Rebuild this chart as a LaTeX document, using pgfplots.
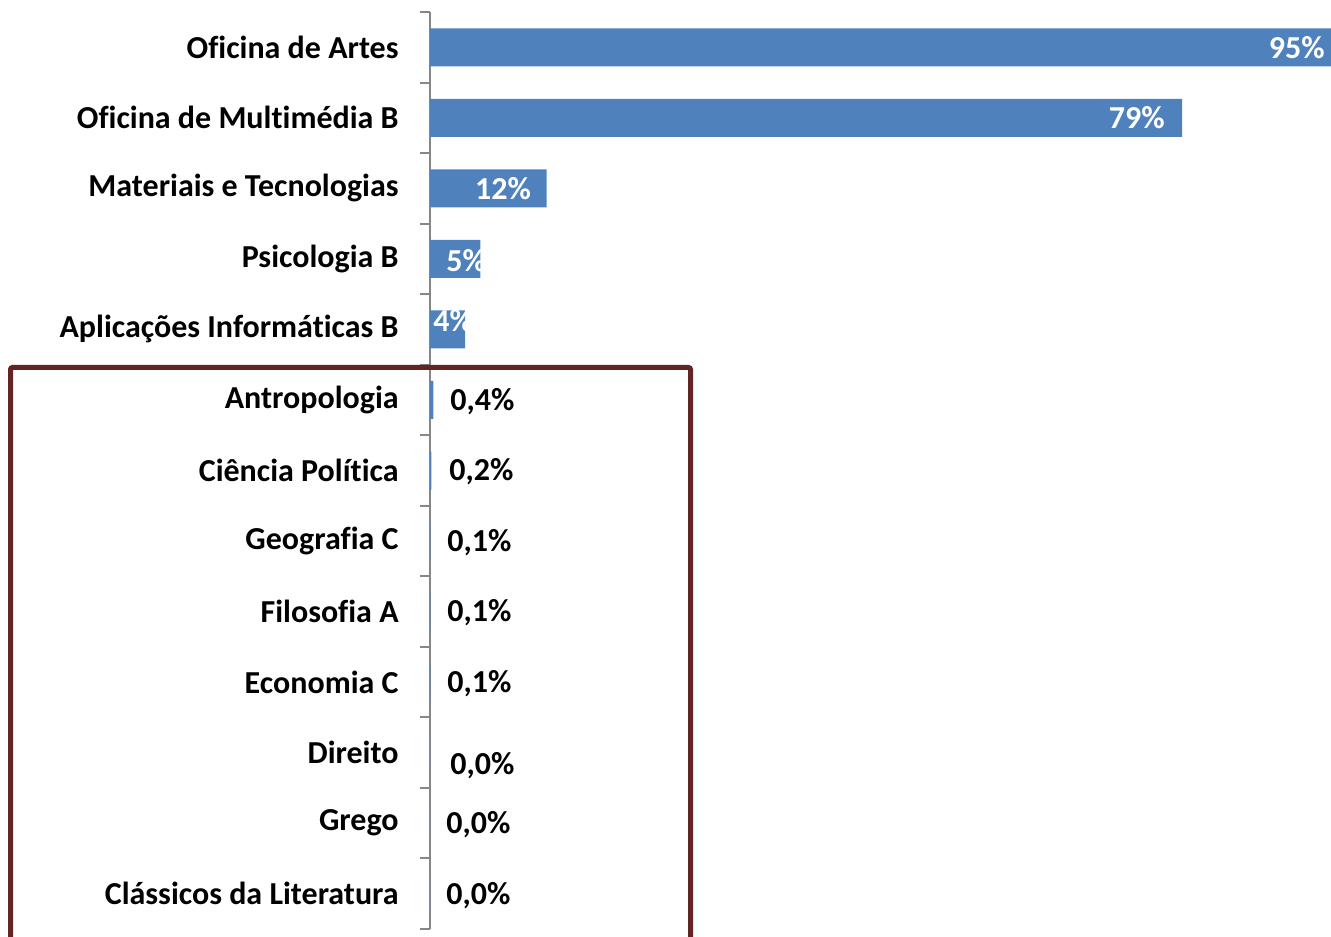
\documentclass[border=0pt]{standalone}
\usepackage{pgfplots}
\pgfplotsset{compat=1.18}
\usepackage{fontspec}
\setmainfont{Carlito}[Ligatures=NoCommon]
\definecolor{barblue}{RGB}{79,129,189}
\definecolor{boxred}{RGB}{99,37,35}
\definecolor{axgray}{RGB}{134,134,134}
\begin{document}
\begin{tikzpicture}
\path[use as bounding box] (0pt,0pt) rectangle (665.5pt,468pt);
\begin{axis}[
  at={(215pt,3.5pt)}, anchor=south west,
  scale only axis, width=450.5pt, height=458.5pt,
  xmin=0, xmax=95, ymin=-0.5, ymax=12.5, y dir=reverse,
  xbar,
  axis x line=none, axis y line*=left,
  y axis line style={draw=axgray, line width=1pt, -},
  ytick={0,...,12},
  yticklabels={Oficina de Artes, Oficina de Multimédia B, Materiais e Tecnologias, Psicologia B, Aplicações Informáticas B, Antropologia, Ciência Política, Geografia C, Filosofia A, Economia C, Direito, Grego, Clássicos da Literatura},
  major tick length=0pt,
  minor ytick={-0.5,0.5,...,12.5},
  minor tick length=5pt,
  tick align=outside,
  minor tick style={draw=axgray, line width=1pt},
  yticklabel style={font=\bfseries\fontsize{16}{19}\selectfont, inner sep=0pt, text=black, xshift=-15.5pt},
  clip=false,
]
\addplot[xbar, bar width=19pt, fill=barblue, draw=none] coordinates {
  (95,0) (79.3,1) (12.3,2) (5.3,3) (3.7,4) (0.35,5) (0.15,6) (0.05,7) (0.05,8) (0.05,9) (0,10) (0,11) (0,12)
};
\begin{scope}[every node/.style={font=\bfseries\fontsize{16}{19}\selectfont, inner sep=0pt}]
\node[anchor=east, white] at (axis cs:94.37,0) {95\%};
\node[anchor=east, white] at (axis cs:77.5,1) {79\%};
\node[white] at (axis cs:7.7,2) {12\%};
\node[anchor=west, white] at (axis cs:1.69,3.03) {5\%};
\node[anchor=west, white] at (axis cs:0.32,3.87) {4\%};
\node[anchor=west] at (axis cs:2.11,5.02) {0,4\%};
\node[anchor=west] at (axis cs:2.0,6.01) {0,2\%};
\node[anchor=west] at (axis cs:1.79,7.02) {0,1\%};
\node[anchor=west] at (axis cs:1.79,8.01) {0,1\%};
\node[anchor=west] at (axis cs:1.79,9.02) {0,1\%};
\node[anchor=west] at (axis cs:2.11,10.18) {0,0\%};
\node[anchor=west] at (axis cs:1.69,11.02) {0,0\%};
\node[anchor=west] at (axis cs:1.69,12.02) {0,0\%};
\end{scope}
\end{axis}
\draw[boxred, line width=2.5pt, rounded corners=1pt] (5.25pt,-2pt) -- (5.25pt,284.25pt) -- (345.25pt,284.25pt) -- (345.25pt,-2pt);
\end{tikzpicture}
\end{document}
